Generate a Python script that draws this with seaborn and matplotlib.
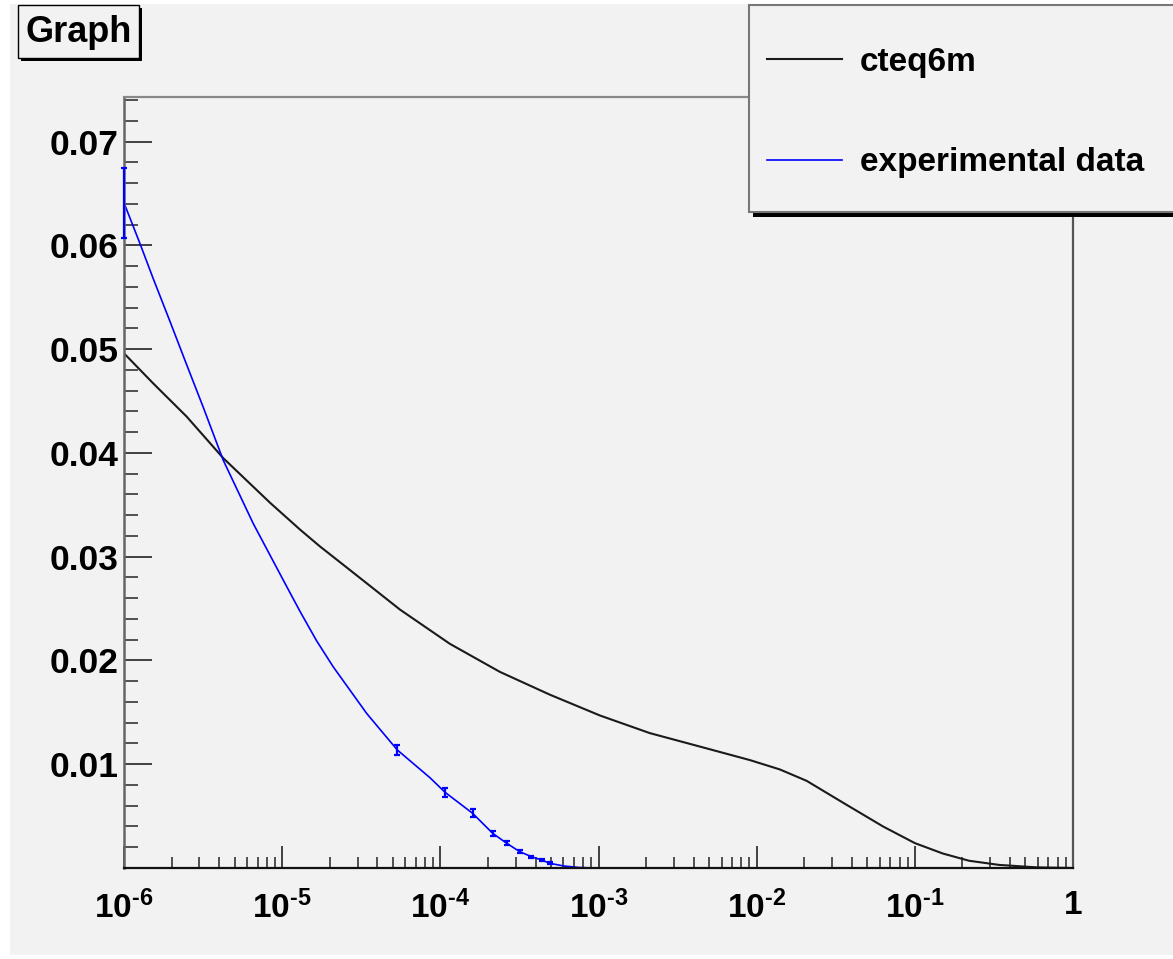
import matplotlib
matplotlib.use("Agg")
import matplotlib.pyplot as plt
import matplotlib.ticker as mticker
from matplotlib.patches import Rectangle
import seaborn as sns
import numpy as np

# ---------------- data ----------------
cteq_x = [1e-6, 1.53e-6, 2.49e-6, 4.24e-6, 8.38e-6, 1.30e-5, 1.73e-5, 2.69e-5,
          5.56e-5, 1.15e-4, 2.38e-4, 4.93e-4, 1.02e-3, 2.11e-3, 4.38e-3, 9.06e-3,
          1.4e-2, 2.07e-2, 3.6e-2, 6.3e-2, 0.1, 0.15, 0.22, 0.34, 0.59, 1.0]
cteq_y = [0.0496, 0.0467, 0.0435, 0.0395, 0.0352, 0.0326, 0.0310, 0.0287,
          0.0249, 0.0216, 0.0189, 0.0167, 0.0147, 0.0130, 0.0117, 0.0104,
          0.0095, 0.0084, 0.0062, 0.0040, 0.0024, 0.0014, 0.0007, 0.0003, 0.00006, 0.0]

exp_x = [1e-6, 1.26e-6, 1.53e-6, 1.95e-6, 2.49e-6, 3.17e-6, 4.24e-6, 6.56e-6,
         1.07e-5, 1.30e-5, 1.65e-5, 2.1e-5, 3.42e-5, 5.34e-5, 8.6e-5, 1.07e-4,
         1.6e-4, 2.14e-4, 2.63e-4, 3.18e-4, 3.77e-4, 4.37e-4, 4.93e-4, 6e-4,
         7.5e-4, 9.3e-4]
exp_y = [0.0641, 0.0602, 0.0568, 0.0527, 0.0485, 0.0444, 0.0393, 0.0332,
         0.0271, 0.0247, 0.0219, 0.0194, 0.0149, 0.01138, 0.0087, 0.0073,
         0.00527, 0.00335, 0.00238, 0.00157, 0.00109, 0.00077, 0.00045, 0.0002,
         0.00005, 0.0]

pts_x = [1e-6, 5.34e-5, 1.07e-4, 1.6e-4, 2.14e-4, 2.63e-4, 3.18e-4, 3.77e-4, 4.37e-4, 4.93e-4]
pts_y = [0.0641, 0.01138, 0.0073, 0.00527, 0.00335, 0.00238, 0.00157, 0.00109, 0.00077, 0.00045]
pts_err = [0.0034, 0.00052, 0.00043, 0.0004, 0.00025, 0.0002, 0.00015, 0.0001, 0.0001, 0.0001]

y_ticks = [0.01, 0.02, 0.03, 0.04, 0.05, 0.06, 0.07]
y_tick_labels = ["0.01", "0.02", "0.03", "0.04", "0.05", "0.06", "0.07"]
x_ticks = [1e-6, 1e-5, 1e-4, 1e-3, 1e-2, 1e-1, 1.0]
x_tick_labels = [r"$10^{\text{-6}}$", r"$10^{\text{-5}}$", r"$10^{\text{-4}}$",
                 r"$10^{\text{-3}}$", r"$10^{\text{-2}}$", r"$10^{\text{-1}}$", "1"]

series_labels = ["cteq6m", "experimental data"]
title_text = "Graph"

# ---------------- style ----------------
plt.rcParams['font.family'] = ['Liberation Sans', 'DejaVu Sans']
plt.rcParams['font.weight'] = 'bold'
plt.rcParams['mathtext.fontset'] = 'custom'
plt.rcParams['mathtext.rm'] = 'Liberation Sans:bold'
plt.rcParams['mathtext.it'] = 'Liberation Sans:bold'
plt.rcParams['mathtext.bf'] = 'Liberation Sans:bold'
plt.rcParams['mathtext.sf'] = 'Liberation Sans:bold'
plt.rcParams['mathtext.default'] = 'rm'

W, H = 1173, 959
BG = '#f2f2f2'
fig = plt.figure(figsize=(W / 100, H / 100), dpi=100, facecolor='white')

def fx(px):
    return px / W

def fy(py):
    return 1 - py / H

# canvas background
fig.patches.append(Rectangle((fx(10), fy(955)), fx(1173) - fx(10), fy(4) - fy(955),
                             transform=fig.transFigure, facecolor=BG, edgecolor='none',
                             zorder=-10))

ax = fig.add_axes([fx(124), fy(868), fx(1073) - fx(124), fy(97) - fy(868)])
ax.set_facecolor(BG)

sns.lineplot(x=cteq_x, y=cteq_y, ax=ax, color='#1a1a1a', linewidth=1.5,
             estimator=None, sort=False, label=series_labels[0])
sns.lineplot(x=exp_x, y=exp_y, ax=ax, color='#0000ff', linewidth=1.2,
             estimator=None, sort=False, label=series_labels[1])
eb = ax.errorbar(pts_x, pts_y, yerr=pts_err, fmt='none', ecolor='#0000ff',
                 elinewidth=1.6, capsize=2.5, capthick=1.6, zorder=3)
for art in eb.lines[1] + eb.lines[2]:
    art.set_clip_on(False)

ax.set_xscale('log')
ax.set_xlim(1e-6, 1.0)
ax.set_ylim(0.0, 0.0743)

ax.set_yticks(y_ticks)
ax.set_yticklabels(y_tick_labels)
ax.yaxis.set_minor_locator(mticker.MultipleLocator(0.002))
ax.set_xticks(x_ticks)
ax.set_xticklabels(x_tick_labels)
ax.xaxis.set_minor_locator(mticker.LogLocator(base=10, subs=np.arange(2, 10), numticks=20))
ax.xaxis.set_minor_formatter(mticker.NullFormatter())

ax.tick_params(axis='y', which='major', direction='in', length=20, width=1.3,
               color='#333333', labelsize=25.5, pad=4, left=True, right=False)
ax.tick_params(axis='y', which='minor', direction='in', length=10, width=1.3,
               color='#444444', left=True, right=False)
ax.tick_params(axis='x', which='major', direction='in', length=16, width=1.3,
               color='#333333', labelsize=24, pad=16, bottom=True, top=False)
ax.tick_params(axis='x', which='minor', direction='in', length=8, width=1.3,
               color='#444444', bottom=True, top=False)
for lab in ax.get_xticklabels() + ax.get_yticklabels():
    lab.set_fontweight('bold')

ax.spines['left'].set_color('#666666')
ax.spines['left'].set_linewidth(1.8)
ax.spines['bottom'].set_color('#111111')
ax.spines['bottom'].set_linewidth(1.6)
ax.spines['top'].set_color('#888888')
ax.spines['top'].set_linewidth(1.6)
ax.spines['right'].set_color('#555555')
ax.spines['right'].set_linewidth(1.6)
ax.set_xlabel('')
ax.set_ylabel('')

# legend box (ROOT style, with shadow)
lx0, ly0, lx1, ly1 = 749, 5, 1180, 212
fig.patches.append(Rectangle((fx(lx0 + 4), fy(ly1 + 5)), fx(lx1) - fx(lx0), fy(ly0) - fy(ly1),
                             transform=fig.transFigure, facecolor='black', edgecolor='none',
                             zorder=5))
fig.patches.append(Rectangle((fx(lx0), fy(ly1)), fx(lx1) - fx(lx0), fy(ly0) - fy(ly1),
                             transform=fig.transFigure, facecolor=BG, edgecolor='#777777',
                             linewidth=1.5, zorder=6))
leg = ax.legend(loc='upper left', bbox_to_anchor=(fx(767), fy(47)),
                bbox_transform=fig.transFigure, frameon=False, fontsize=24,
                handlelength=2.25, handletextpad=0.53, labelspacing=2.08,
                borderpad=0, borderaxespad=0)
leg.set_zorder(10)
leg.set_figure(fig)
for t in leg.get_texts():
    t.set_fontweight('bold')
ax.legend_ = None
fig.legends.append(leg)

# title box with shadow
tx0, ty0, tx1, ty1 = 18, 5, 139, 58
fig.patches.append(Rectangle((fx(tx0 + 3), fy(ty1 + 3)), fx(tx1) - fx(tx0), fy(ty0) - fy(ty1),
                             transform=fig.transFigure, facecolor='black', edgecolor='none',
                             zorder=5))
fig.patches.append(Rectangle((fx(tx0), fy(ty1)), fx(tx1) - fx(tx0), fy(ty0) - fy(ty1),
                             transform=fig.transFigure, facecolor=BG, edgecolor='black',
                             linewidth=1.0, zorder=6))
fig.text(fx((tx0 + tx1) / 2), fy(32), title_text, ha='center', va='center',
         fontsize=26, fontweight='bold', zorder=7)

fig.savefig('out.png', dpi=100, facecolor=fig.get_facecolor())
